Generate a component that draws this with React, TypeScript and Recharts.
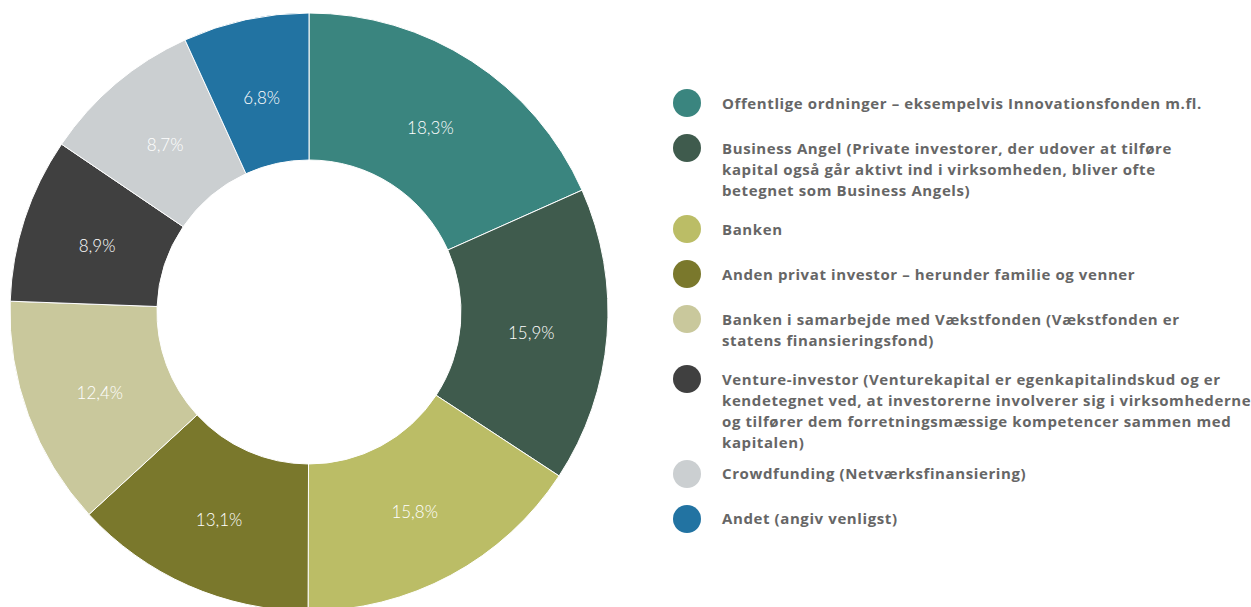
import React from "react";
import { PieChart, Pie, Cell } from "recharts";

const categories = [
  "Offentlige ordninger – eksempelvis Innovationsfonden m.fl.",
  "Business Angel (Private investorer, der udover at tilføre kapital også går aktivt ind i virksomheden, bliver ofte betegnet som Business Angels)",
  "Banken",
  "Anden privat investor – herunder familie og venner",
  "Banken i samarbejde med Vækstfonden (Vækstfonden er statens finansieringsfond)",
  "Venture-investor (Venturekapital er egenkapitalindskud og er kendetegnet ved, at investorerne involverer sig i virksomhederne og tilfører dem forretningsmæssige kompetencer sammen med kapitalen)",
  "Crowdfunding (Netværksfinansiering)",
  "Andet (angiv venligst)",
];

const legendLines: string[][] = [
  ["Offentlige ordninger – eksempelvis Innovationsfonden m.fl."],
  [
    "Business Angel (Private investorer, der udover at tilføre",
    "kapital også går aktivt ind i virksomheden, bliver ofte",
    "betegnet som Business Angels)",
  ],
  ["Banken"],
  ["Anden privat investor – herunder familie og venner"],
  ["Banken i samarbejde med Vækstfonden (Vækstfonden er", "statens finansieringsfond)"],
  [
    "Venture-investor (Venturekapital er egenkapitalindskud og er",
    "kendetegnet ved, at investorerne involverer sig i virksomhederne",
    "og tilfører dem forretningsmæssige kompetencer sammen med",
    "kapitalen)",
  ],
  ["Crowdfunding (Netværksfinansiering)"],
  ["Andet (angiv venligst)"],
];

const values = [18.3, 15.9, 15.8, 13.1, 12.4, 8.9, 8.7, 6.8];
const valueLabels = ["18,3%", "15,9%", "15,8%", "13,1%", "12,4%", "8,9%", "8,7%", "6,8%"];

const colors = [
  "#3A857F",
  "#3F5B4D",
  "#BBBD66",
  "#7A782C",
  "#C9C89C",
  "#404040",
  "#CBCFD1",
  "#2273A2",
];

const data = categories.map((name, i) => ({ name, value: values[i], label: valueLabels[i] }));

const RADIAN = Math.PI / 180;

const renderLabel = (props: any) => {
  const { cx, cy, midAngle, index } = props;
  const r = 223;
  const x = cx + r * Math.cos(-midAngle * RADIAN);
  const y = cy + 3 + r * Math.sin(-midAngle * RADIAN);
  return (
    <text
      x={x}
      y={y}
      fill="#ffffff"
      textAnchor="middle"
      dominantBaseline="central"
      style={{ fontFamily: "Lato, 'Open Sans', sans-serif", fontWeight: 300, fontSize: 17 }}
    >
      {valueLabels[index]}
    </text>
  );
};

const gapFor = (n: number) => (n === 1 ? 17 : n >= 4 ? 7 : 14.5);

const LegendBlock = () => (
  <div
    style={{
      position: "absolute",
      left: 673,
      top: 89,
      width: 578,
      fontFamily: "'Open Sans', sans-serif",
      fontWeight: 700,
      fontSize: 15,
      letterSpacing: 0.6,
      color: "#666666",
    }}
  >
    {legendLines.map((lines, i) => (
      <div key={i} style={{ display: "flex", alignItems: "flex-start", marginBottom: gapFor(lines.length) }}>
        <div
          style={{
            width: 28,
            height: 28,
            borderRadius: 14,
            background: colors[i],
            flex: "0 0 28px",
          }}
        />
        <div style={{ marginLeft: 21, paddingTop: 3.5, lineHeight: "21px", whiteSpace: "nowrap" }}>
          {lines.map((l, j) => (
            <div key={j}>{l}</div>
          ))}
        </div>
      </div>
    ))}
  </div>
);

export default function App() {
  return (
    <div style={{ position: "absolute", left: 0, top: 0, width: 1251, height: 607, background: "#fff", overflow: "hidden" }}>
      <PieChart width={1251} height={607} margin={{ top: 0, right: 0, bottom: 0, left: 0 }}>
        <Pie
          data={data}
          dataKey="value"
          nameKey="name"
          cx={309}
          cy={312}
          outerRadius={299}
          innerRadius={152}
          startAngle={90}
          endAngle={-270}
          stroke="#ffffff"
          strokeWidth={1}
          label={renderLabel}
          labelLine={false}
          isAnimationActive={false}
        >
          {data.map((_, i) => (
            <Cell key={i} fill={colors[i]} />
          ))}
        </Pie>
      </PieChart>
      <LegendBlock />
    </div>
  );
}
